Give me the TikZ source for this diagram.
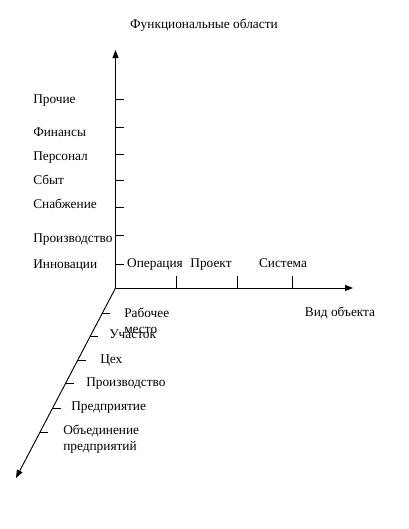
\documentclass[tikz,border=0pt]{standalone}
\usepackage{fontspec}
\setmainfont{Liberation Serif}
\usetikzlibrary{arrows.meta,calc}
\begin{document}
\begin{tikzpicture}[x=0.75pt,y=-0.75pt,
  axis/.style={line width=0.7pt,-{Triangle[length=6pt,width=4.5pt]}},
  tick/.style={line width=0.6pt},
  lbl/.style={anchor=west,inner sep=0pt,text height=7pt,text depth=2pt,font=\fontsize{10}{12}\selectfont},
  mlbl/.style={anchor=west,inner sep=0pt,align=left,font=\fontsize{10}{12}\selectfont},
  clbl/.style={anchor=center,inner sep=0pt,text height=7pt,text depth=2pt,font=\fontsize{10}{12}\selectfont}]
\useasboundingbox (0,0) rectangle (409,529);
\coordinate (O) at (115.5,288);
\coordinate (Ytop) at (115.5,50);
\coordinate (Xend) at (353,288);
\coordinate (Dend) at (16,478);
\draw[axis] (O) -- (Ytop);
\draw[axis] (O) -- (Xend);
\draw[axis] (O) -- (Dend);
% title
\node[clbl] (title) at (204,25) {Функциональные области};
% vertical axis ticks
\foreach \y/\n in {99/a,127/b,154/c,180/d,207/e,235/f,264/g}{
  \coordinate (v\n) at (115.5,\y);
  \coordinate (v\n e) at (123.5,\y);
  \draw[tick] (v\n) -- (v\n e);
}
\node[lbl] (la) at (33,100) {Прочие};
\node[lbl] (lb) at (33,133) {Финансы};
\node[lbl] (lc) at (33,157) {Персонал};
\node[lbl] (ld) at (33,181) {Сбыт};
\node[lbl] (le) at (33,205) {Снабжение};
\node[lbl] (lf) at (33,239) {Производство};
\node[lbl] (lg) at (33,265) {Инновации};
% horizontal axis ticks
\foreach \x/\n in {176/a,237/b,292/c}{
  \coordinate (h\n) at (\x,288);
  \coordinate (h\n e) at (\x,276);
  \draw[tick] (h\n) -- (h\n e);
}
\node[clbl] (op) at (155,264) {Операция};
\node[clbl] (pr) at (211,264) {Проект};
\node[clbl] (sy) at (283,264) {Система};
\node[clbl] (vo) at (340,313) {Вид объекта};
% diagonal axis ticks
\foreach \y/\n in {313/a,336/b,360/c,383/d,408/e,432/f}{
  \coordinate (d\n) at ($(O)!{(\y-288)/190}!(Dend)$);
  \draw[tick] (d\n) -- ++(8,0);
}
\node[mlbl] (da) at (124,320.5) {Рабочее\\место};
\node[lbl] (db) at (109,335) {Участок};
\node[lbl] (dc) at (100,360) {Цех};
\node[lbl] (dd) at (86,383) {Производство};
\node[lbl] (de) at (71,407) {Предприятие};
\node[mlbl] (df) at (63,439.5) {Объединение\\предприятий};
\end{tikzpicture}
\end{document}
